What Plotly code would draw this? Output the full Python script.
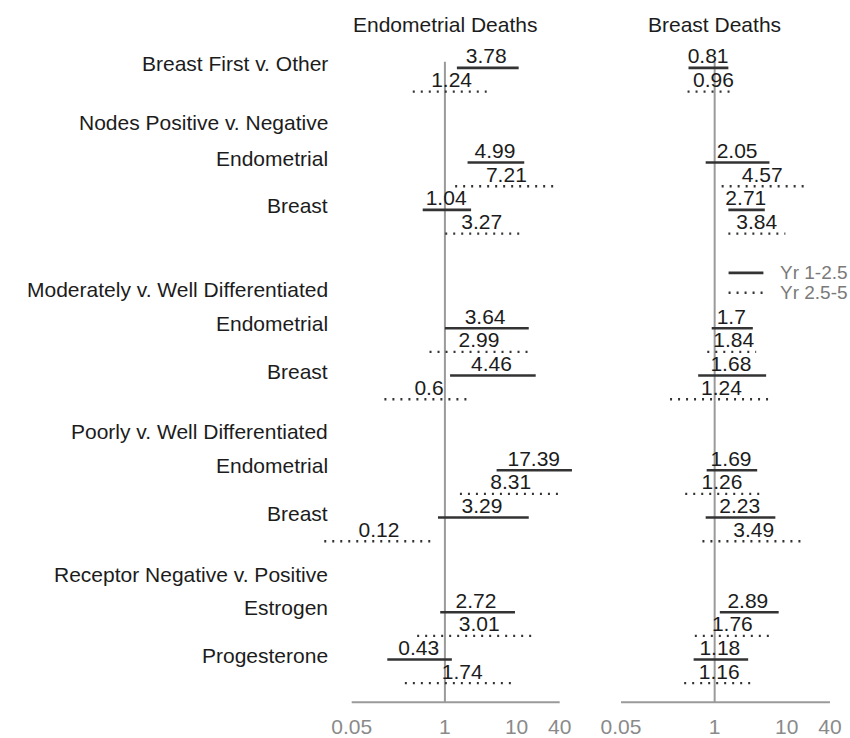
import math
import plotly.graph_objects as go

# ---------------- data ----------------
row_labels = ["Breast First v. Other", "Endometrial", "Breast", "Endometrial", "Breast",
              "Endometrial", "Breast", "Estrogen", "Progesterone"]
group_headers = ["Nodes Positive v. Negative", "Moderately v. Well Differentiated",
                 "Poorly v. Well Differentiated", "Receptor Negative v. Positive"]
panel_titles = ["Endometrial Deaths", "Breast Deaths"]
series_names = ["Yr 1-2.5", "Yr 2.5-5"]
tick_vals = [0.05, 1, 10, 40]
tick_text = ["0.05", "1", "10", "40"]

# Endometrial deaths
endo_hr_early = [3.78, 4.99, 1.04, 3.64, 4.46, 17.39, 3.29, 2.72, 0.43]
endo_lo_early = [1.47, 2.07, 0.49, 1.0, 1.18, 5.27, 0.80, 0.86, 0.157]
endo_hi_early = [10.7, 12.8, 2.32, 14.8, 18.5, 59.3, 14.8, 9.5, 1.25]
endo_hr_late = [1.24, 7.21, 3.27, 2.99, 0.6, 8.31, 0.12, 3.01, 1.74]
endo_lo_late = [0.356, 1.39, 1.01, 0.61, 0.143, 1.62, 0.0207, 0.41, 0.276]
endo_hi_late = [3.83, 37.1, 11.1, 15.3, 2.07, 42.0, 0.72, 19.0, 9.5]

# Breast deaths
br_hr_early = [0.81, 2.05, 2.71, 1.7, 1.68, 1.69, 2.23, 2.89, 1.18]
br_lo_early = [0.433, 0.75, 1.55, 0.91, 0.59, 0.775, 0.75, 1.18, 0.51]
br_hi_early = [1.55, 5.77, 4.97, 3.39, 5.19, 3.9, 6.97, 7.75, 2.92]
br_hr_late = [0.96, 4.57, 3.84, 1.84, 1.24, 1.26, 3.49, 1.76, 1.16]
br_lo_late = [0.42, 1.25, 1.55, 0.79, 0.24, 0.39, 0.676, 0.53, 0.377]
br_hi_late = [1.95, 18.1, 9.6, 3.77, 6.27, 4.19, 18.1, 6.15, 3.25]

# ---------------- layout (row slots) ----------------
row_slot = [0, 2, 3, 5.5, 6.5, 8.5, 9.5, 11.5, 12.5]
header_slot = [1.16, 4.68, 7.68, 10.70]
late_offset = 0.5
label_offset = 0.21
axis_slot = 13.40
ref_top = -0.13
y_range = [13.608, -1.4346]
legend_slot = [4.33, 4.75]

W, H = 850, 738
FONT = "Liberation Sans, Arial, sans-serif"
DARK = "#1c1c1c"
GREY = "#8a8a8a"
FS = 21

panels = [
    dict(xa="x", hr_e=endo_hr_early, lo_e=endo_lo_early, hi_e=endo_hi_early,
         hr_l=endo_hr_late, lo_l=endo_lo_late, hi_l=endo_hi_late,
         rng=[0.018, 65], dom=[317.4 / W, 573.5 / W]),
    dict(xa="x2", hr_e=br_hr_early, lo_e=br_lo_early, hi_e=br_hi_early,
         hr_l=br_hr_late, lo_l=br_lo_late, hi_l=br_hi_late,
         rng=[0.03, 60], dom=[603.9 / W, 842.6 / W]),
]
styles = [("solid", 2.6), ("2px,6px", 2.3)]

fig = go.Figure()

for pi, p in enumerate(panels):
    xa = p["xa"]
    fig.add_trace(go.Scatter(x=[1, 1], y=[ref_top, axis_slot], mode="lines",
                             line=dict(color="#9a9a9a", width=2), xaxis=xa, yaxis="y",
                             showlegend=False, hoverinfo="skip"))
    fig.add_trace(go.Scatter(x=[tick_vals[0], tick_vals[-1]], y=[axis_slot, axis_slot], mode="lines",
                             line=dict(color="#9a9a9a", width=2), xaxis=xa, yaxis="y",
                             showlegend=False, hoverinfo="skip"))
    for si, (hr, lo, hi, off) in enumerate([
            (p["hr_e"], p["lo_e"], p["hi_e"], 0.0),
            (p["hr_l"], p["lo_l"], p["hi_l"], late_offset)]):
        dash, width = styles[si]
        xs, ys = [], []
        for l, h, s in zip(lo, hi, row_slot):
            xs += [l, h, None]
            ys += [s + off, s + off, None]
        fig.add_trace(go.Scatter(x=xs, y=ys, mode="lines",
                                 line=dict(color="#333333", width=width, dash=dash),
                                 xaxis=xa, yaxis="y", name=series_names[si],
                                 showlegend=False, hoverinfo="skip"))
        fig.add_trace(go.Scatter(x=hr, y=[s + off - label_offset for s in row_slot],
                                 mode="text", text=[f"{v:g}" for v in hr],
                                 textposition="middle center",
                                 textfont=dict(family=FONT, size=FS, color=DARK),
                                 xaxis=xa, yaxis="y", showlegend=False,
                                 hoverinfo="skip", cliponaxis=False))
    fig.add_annotation(x=0, xref=xa, y=-0.907, yref="y", text=panel_titles[pi],
                       showarrow=False, xanchor="center", yanchor="middle",
                       font=dict(family=FONT, size=FS, color=DARK))

# row labels
for lab, s in zip(row_labels, row_slot):
    fig.add_annotation(x=328 / W, xref="paper", y=s - 0.095, yref="y", text=lab,
                       showarrow=False, xanchor="right", yanchor="middle",
                       font=dict(family=FONT, size=FS, color=DARK))
for lab, s in zip(group_headers, header_slot):
    fig.add_annotation(x=328 / W, xref="paper", y=s, yref="y", text=lab,
                       showarrow=False, xanchor="right", yanchor="middle",
                       font=dict(family=FONT, size=FS, color=DARK))

# legend (drawn manually to match compact spacing)
for si, ys in enumerate(legend_slot):
    dash, width = styles[si]
    fig.add_shape(type="line", xref="paper", yref="y", x0=728 / W, x1=763 / W, y0=ys, y1=ys,
                  line=dict(color="#333333", width=width, dash=dash))
    fig.add_annotation(x=778 / W, xref="paper", y=ys, yref="y", text=series_names[si],
                       showarrow=False, xanchor="left", yanchor="middle",
                       font=dict(family=FONT, size=19, color="#7a7a7a"))

axis_common = dict(type="log", showgrid=False, zeroline=False, showline=False, ticks="",
                   tickvals=tick_vals, ticktext=tick_text, anchor="y",
                   tickfont=dict(family=FONT, size=FS, color=GREY), fixedrange=True)

fig.update_layout(
    width=W, height=H,
    margin=dict(l=0, r=0, t=0, b=25),
    paper_bgcolor="white", plot_bgcolor="white",
    xaxis=dict(domain=panels[0]["dom"],
               range=[math.log10(panels[0]["rng"][0]), math.log10(panels[0]["rng"][1])],
               **axis_common),
    xaxis2=dict(domain=panels[1]["dom"],
                range=[math.log10(panels[1]["rng"][0]), math.log10(panels[1]["rng"][1])],
                **axis_common),
    yaxis=dict(range=y_range, visible=False, fixedrange=True),
    showlegend=False,
)

fig.write_html("out.html", config={"displayModeBar": False},
               post_script="document.body.style.margin='0';document.body.style.overflow='hidden';")
